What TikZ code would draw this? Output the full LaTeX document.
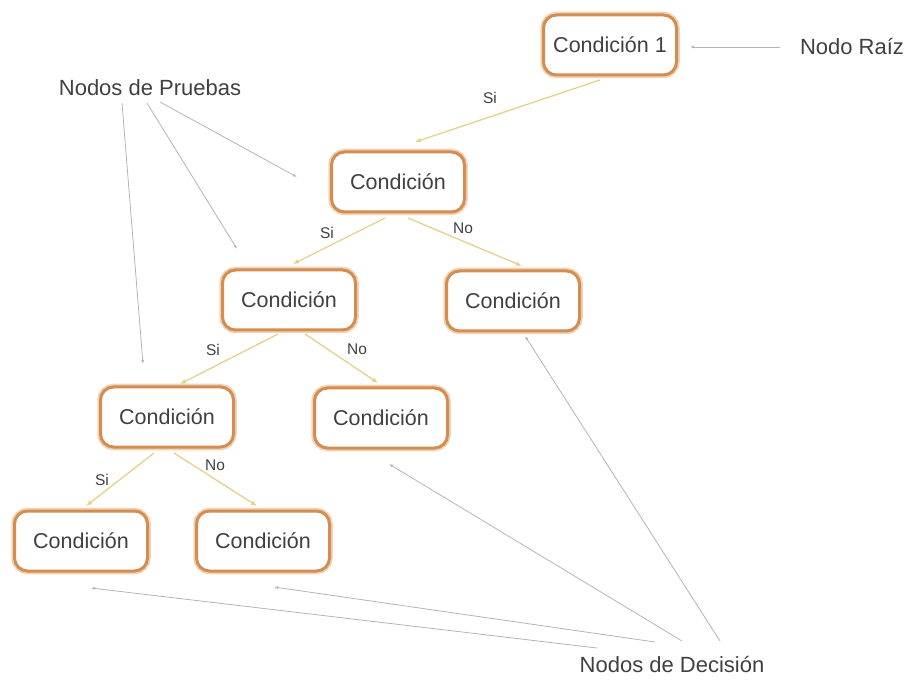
\documentclass[tikz,border=0pt]{standalone}
\usepackage{fontspec}
\setmainfont{Liberation Sans}
\usetikzlibrary{arrows.meta}
\definecolor{bord}{HTML}{D38D52}
\definecolor{glow}{HTML}{F2D3B4}
\definecolor{yel}{HTML}{E6D08C}
\definecolor{gry}{HTML}{B4B4B4}
\definecolor{txt}{HTML}{404040}
\tikzset{
  cond/.style={draw=bord, line width=3pt, fill=white, rounded corners=13pt,
    minimum width=133pt, minimum height=60pt, text=txt,
    font=\fontsize{21.5}{24}\selectfont,
    preaction={draw=glow, line width=6.5pt}},
  lbl/.style={text=txt, font=\fontsize{22}{26}\selectfont},
  ed/.style={text=txt, font=\fontsize{15.5}{18}\selectfont},
  yarr/.style={draw=yel, line width=1.3pt, -{Latex[length=6pt,width=5pt]}},
  garr/.style={draw=gry, line width=0.8pt, -{Latex[length=4pt,width=3pt]}}
}
\begin{document}
\begin{tikzpicture}[x=1pt,y=-1pt]
\useasboundingbox (0,0) rectangle (905,684);
\node[cond] (n1) at (610,45) {Condición 1};
\node[cond] (n2) at (398,182) {Condición};
\node[cond] (n3) at (289,300) {Condición};
\node[cond] (n4) at (513,301) {Condición};
\node[cond] (n5) at (167,417) {Condición};
\node[cond] (n6) at (381,418) {Condición};
\node[cond] (n7) at (81,541) {Condición};
\node[cond] (n8) at (263,541) {Condición};

\node[lbl] (raiz) at (852,47) {Nodo Raíz};
\node[lbl] (pru) at (150,88) {Nodos de Pruebas};
\node[lbl] (dec) at (672,665) {Nodos de Decisión};

% yellow edges
\coordinate (a1) at (600,80);  \coordinate (b1) at (415,142);
\coordinate (a2) at (385,218); \coordinate (b2) at (293,264);
\coordinate (a3) at (408,218); \coordinate (b3) at (522,266);
\coordinate (a4) at (278,334); \coordinate (b4) at (180,384);
\coordinate (a5) at (305,334); \coordinate (b5) at (378,383);
\coordinate (a6) at (154,453); \coordinate (b6) at (86,506);
\coordinate (a7) at (174,453); \coordinate (b7) at (257,506);
\draw[yarr] (a1) -- (b1);
\draw[yarr] (a2) -- (b2);
\draw[yarr] (a3) -- (b3);
\draw[yarr] (a4) -- (b4);
\draw[yarr] (a5) -- (b5);
\draw[yarr] (a6) -- (b6);
\draw[yarr] (a7) -- (b7);
\node[ed] (s1) at (490,98) {Si};
\node[ed] (s2) at (327,233) {Si};
\node[ed] (o2) at (463,228) {No};
\node[ed] (s3) at (213,350) {Si};
\node[ed] (o3) at (357,349) {No};
\node[ed] (s4) at (102,480) {Si};
\node[ed] (o4) at (215,465) {No};

% gray pointers
\coordinate (r0) at (780,47); \coordinate (r1) at (690,47);
\draw[garr] (r0) -- (r1);
\coordinate (p1) at (160,102); \coordinate (q1) at (297,177);
\coordinate (p2) at (147,103); \coordinate (q2) at (237,249);
\coordinate (p3) at (122,103); \coordinate (q3) at (143,364);
\draw[garr] (p1) -- (q1);
\draw[garr] (p2) -- (q2);
\draw[garr] (p3) -- (q3);
\coordinate (d1) at (720,641); \coordinate (e1) at (525,336);
\coordinate (d2) at (682,641); \coordinate (e2) at (389,464);
\coordinate (d3) at (655,642); \coordinate (e3) at (274,587);
\coordinate (d4) at (597,648); \coordinate (e4) at (91,588);
\draw[garr] (d1) -- (e1);
\draw[garr] (d2) -- (e2);
\draw[garr] (d3) -- (e3);
\draw[garr] (d4) -- (e4);
\end{tikzpicture}
\end{document}
